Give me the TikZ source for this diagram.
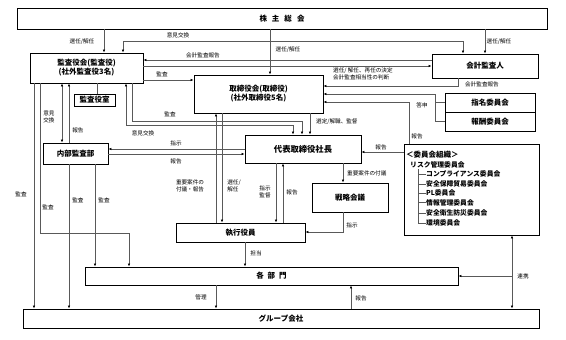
\documentclass[tikz,border=0pt]{standalone}
\usepackage{fontspec}
\setmainfont{Noto Sans CJK JP}
\usetikzlibrary{arrows.meta}
\begin{document}
\begin{tikzpicture}[x=1pt,y=-1pt,
  box/.style={draw=black, line width=0.9pt, inner sep=0pt, align=center, font=\bfseries\fontsize{7.5}{9}\selectfont},
  lab/.style={inner sep=0pt, align=center, font=\fontsize{5.6}{6.6}\selectfont},
  ln/.style={draw=black!65, line width=0.6pt},
  arr/.style={ln, -{Latex[length=3pt,width=2.6pt,fill=black,color=black]}},
  darr/.style={ln, {Latex[length=3pt,width=2.6pt,fill=black,color=black]}-{Latex[length=3pt,width=2.6pt,fill=black,color=black]}},
  item/.style={inner sep=0pt, anchor=west, font=\bfseries\fontsize{6.8}{8}\selectfont}
]
\useasboundingbox (0,0) rectangle (566,340);

% boxes
\node[box, minimum width=530pt, minimum height=21pt] (sh) at (282,18.5) {株\hspace{5pt}主\hspace{5pt}総\hspace{5pt}会};
\node[box, minimum width=113pt, minimum height=30pt] (kansa) at (86.5,68) {監査役会(監査役)\\(社外監査役3名)};
\node[box, minimum width=41pt, minimum height=12pt] (kshitsu) at (94.5,100) {監査役室};
\node[box, minimum width=129pt, minimum height=38pt] (tori) at (258.5,94) {取締役会(取締役)\\(社外取締役5名)};
\node[box, minimum width=106pt, minimum height=24pt] (kaikei) at (485,66) {会計監査人};
\node[box, minimum width=90pt, minimum height=19pt] (shimei) at (490,102.5) {指名委員会};
\node[box, minimum width=90pt, minimum height=19pt] (houshu) at (490,121.5) {報酬委員会};
\node[box, minimum width=65pt, minimum height=21pt] (naibu) at (75.5,153.5) {内部監査部};
\node[box, minimum width=116pt, minimum height=28pt, font=\bfseries\fontsize{8.3}{9}\selectfont] (shacho) at (303,149) {代表取締役社長};
\node[box, minimum width=76pt, minimum height=29pt] (senryaku) at (350,197.5) {戦略会議};
\node[box, minimum width=129pt, minimum height=19pt] (shikko) at (240.5,232.5) {執行役員};
\node[box, minimum width=135pt, minimum height=91pt] (iinkai) at (471.5,189.5) {};
\node[box, minimum width=373pt, minimum height=18pt] (kakubu) at (271.5,276) {各\hspace{4pt}部\hspace{4pt}門};
\node[box, minimum width=516pt, minimum height=19pt] (group) at (281,318.5) {グループ会社};

% committee contents
\node[item, font=\bfseries\fontsize{7.5}{8}\selectfont] (t0) at (406,155) {＜委員会組織＞};
\node[item] (t1) at (410,165) {リスク管理委員会};
\node[item] (i1) at (426,174) {コンプライアンス委員会};
\node[item] (i2) at (426,184) {安全保障貿易委員会};
\node[item] (i3) at (426,193) {PL委員会};
\node[item] (i4) at (426,202.5) {情報管理委員会};
\node[item] (i5) at (426,213) {安全衛生防災委員会};
\node[item] (i6) at (426,223) {環境委員会};
\draw[ln] (418,169) -- (418,223);
\foreach \n in {i1,i2,i3,i4,i5,i6} { \draw[ln] (418,0 |- \n.west) -- (\n.west); }

% 株主総会
\draw[arr] (104,0 |- sh.south) -- (104,0 |- kansa.north);
\node[lab] (l1) at (82,42) {選任/解任};
\draw[arr] (270,0 |- sh.south) -- (270,0 |- tori.north);
\node[lab] (l2) at (288,50) {選任/解任};
\draw[arr] (485,0 |- sh.south) -- (485,0 |- kaikei.north);
\node[lab] (l3) at (499,42) {選任/解任};

% 意見交換 top
\draw[darr] (123,0 |- kansa.north) -- (123,41) -- (463,41) -- (463,0 |- kaikei.north);
\node[lab] (l4) at (178,35) {意見交換};
% 会計監査報告 to kansa
\draw[arr] (kaikei.west |- 0,60) -- (kansa.east |- 0,60);
\node[lab] (l5) at (203,55) {会計監査報告};
% kansa -> kaikei
\draw[arr] (kansa.east |- 0,66) -- (kaikei.west |- 0,66);
\node[lab, align=left, anchor=west] (l6) at (333,74) {選任/ 解任、再任の決定\\会計監査相当性の判断};
% 監査 kansa -> tori
\draw[arr] (kansa.east |- 0,80) -- (tori.west |- 0,80);
\node[lab] (l7) at (162,74) {監査};
% 会計監査報告 kaikei -> tori
\draw[arr] (458,0 |- kaikei.south) -- (458,86) -- (tori.east |- 0,86);
\node[lab] (l8) at (482,84) {会計監査報告};
% 答申
\draw[arr] (435,94) -- (tori.east |- 0,94);
\draw[ln] (435,94) -- (435,0 |- houshu.west);
\draw[ln] (shimei.west) -- (435,0 |- shimei.west);
\draw[ln] (houshu.west) -- (435,0 |- houshu.west);
\node[lab] (l9) at (422,105) {答申};
% 報告 iinkai -> tori
\draw[arr] (409,0 |- iinkai.north) -- (409,102) -- (tori.east |- 0,102);
\node[lab] (l10) at (417,136) {報告};
% 選定/解職、監督
\draw[arr] (310,0 |- tori.south) -- (310,0 |- shacho.north);
\node[lab, anchor=west] (l11) at (316,122) {選定/解職、監督};
% 監査 kansa -> shacho
\draw[arr] (132,0 |- kansa.south) -- (132,121) -- (302,121) -- (302,0 |- shacho.north);
\node[lab] (l12) at (170,114) {監査};
% 意見交換 kansa <-> shacho
\draw[darr] (126,0 |- kansa.south) -- (126,125) -- (293,125) -- (293,0 |- shacho.north);
\node[lab] (l13) at (143,133) {意見交換};
% kansa - kansashitsu
\draw[ln] (97,0 |- kansa.south) -- (97,0 |- kshitsu.north);
% left verticals
\draw[arr] (34,0 |- kansa.south) -- (34,0 |- group.north);
\node[lab] (l14) at (21,194) {監査};
\draw[arr] (40,0 |- kansa.south) -- (40,233) -- (129,233) -- (129,0 |- kakubu.north);
\node[lab] (l15) at (48,207) {監査};
\draw[darr] (62,0 |- kansa.south) -- (62,0 |- naibu.north);
\node[lab] (l16) at (49,117) {意見\\交換};
\draw[arr] (69,0 |- naibu.north) -- (69,0 |- kansa.south);
\node[lab] (l17) at (78,130) {報告};
\draw[arr] (69,0 |- naibu.south) -- (69,0 |- group.north);
\node[lab] (l18) at (78,200) {監査};
\draw[arr] (95,0 |- naibu.south) -- (95,0 |- kakubu.north);
\node[lab] (l19) at (104,200) {監査};
% shacho <-> naibu
\draw[arr] (shacho.west |- 0,149) -- (naibu.east |- 0,149);
\node[lab] (l20) at (176,143) {指示};
\draw[arr] (naibu.east |- 0,154) -- (shacho.west |- 0,154);
\node[lab] (l21) at (176,161) {報告};
% tori <-> shikko
\draw[arr] (216,0 |- shikko.north) -- (216,0 |- tori.south);
\node[lab] (l22) at (190,186) {重要案件の\\付議・報告};
\draw[arr] (222,0 |- tori.south) -- (222,0 |- shikko.north);
\node[lab, align=left] (l23) at (234,186) {選任/\\解任};
% shacho <-> shikko
\draw[arr] (276,0 |- shacho.south) -- (276,0 |- shikko.north);
\node[lab] (l24) at (265,192) {指示\\監督};
\draw[arr] (283,0 |- shikko.north) -- (283,0 |- shacho.south);
\node[lab] (l25) at (292,192) {報告};
% shacho -> senryaku
\draw[arr] (343,0 |- shacho.south) -- (343,0 |- senryaku.north);
\node[lab, anchor=west] (l26) at (347,173) {重要案件の付議};
% senryaku -> shikko
\draw[arr] (343,0 |- senryaku.south) -- (343,232) -- (shikko.east |- 0,232);
\node[lab] (l27) at (352,225) {指示};
% iinkai -> shacho
\draw[arr] (iinkai.west |- 0,152) -- (shacho.east |- 0,152);
\node[lab] (l28) at (381,147) {報告};
% shikko -> kakubu
\draw[arr] (245,0 |- shikko.south) -- (245,0 |- kakubu.north);
\node[lab] (l29) at (256,253) {担当};
% kakubu <-> group
\draw[arr] (216,0 |- kakubu.south) -- (216,0 |- group.north);
\node[lab] (l30) at (201,297) {管理};
\draw[arr] (351,0 |- group.north) -- (351,0 |- kakubu.south);
\node[lab] (l31) at (361,298) {報告};
% 連携
\draw[darr] (512,0 |- iinkai.south) -- (512,0 |- group.north);
\coordinate (rk) at (512,276);
\draw[arr] (rk) -- (kakubu.east |- rk);
\node[lab] (l32) at (523,276) {連携};
\end{tikzpicture}
\end{document}
